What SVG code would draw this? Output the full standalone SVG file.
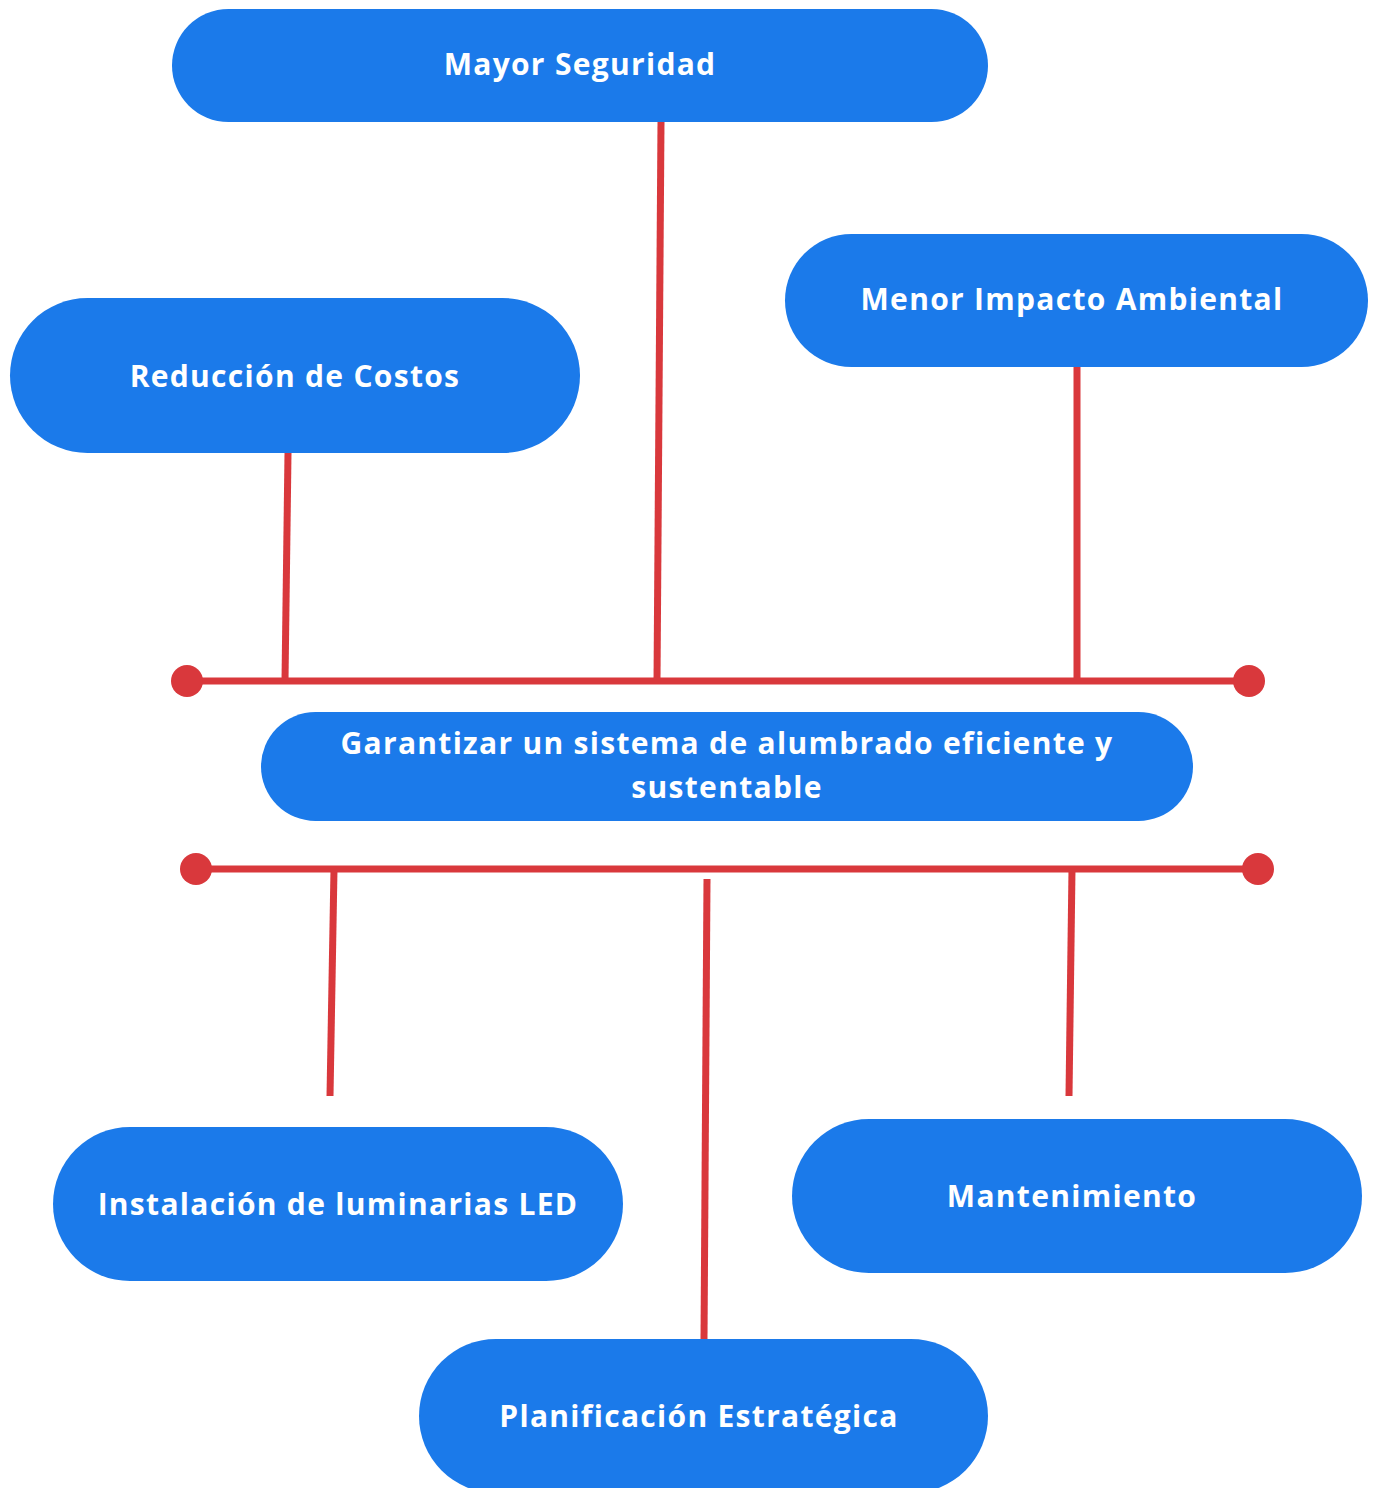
<svg xmlns="http://www.w3.org/2000/svg" width="1377" height="1488" viewBox="0 0 1377 1488">
<style>
.node{fill:#1B7AEA}
.t{fill:#FFFFFF;font-family:"Open Sans","Liberation Sans",sans-serif;font-weight:700;font-size:30px;text-anchor:middle;dominant-baseline:central;letter-spacing:1.3px}
.ln{stroke:#D9383C;stroke-width:7;fill:none}
.dot{fill:#D9383C}
</style>
<rect x="0" y="0" width="1377" height="1488" fill="#FFFFFF"/>
<g id="connectors">
<line class="ln" x1="187" y1="681" x2="1249" y2="681"/>
<circle class="dot" cx="187" cy="681" r="16"/>
<circle class="dot" cx="1249" cy="681" r="16"/>
<line class="ln" x1="288" y1="453" x2="285" y2="681"/>
<line class="ln" x1="661" y1="122" x2="657" y2="681"/>
<line class="ln" x1="1077" y1="367" x2="1077" y2="681"/>
<line class="ln" x1="196" y1="869" x2="1258" y2="869"/>
<circle class="dot" cx="196" cy="869" r="16"/>
<circle class="dot" cx="1258" cy="869" r="16"/>
<line class="ln" x1="334" y1="869" x2="330" y2="1096"/>
<line class="ln" x1="707" y1="879" x2="704" y2="1339"/>
<line class="ln" x1="1072" y1="869" x2="1069" y2="1096"/>
</g>
<g id="node-mayor-seguridad">
<rect class="node" x="172" y="9" width="816" height="113" rx="56.5"/>
<text class="t" x="580" y="63">Mayor Seguridad</text>
</g>
<g id="node-menor-impacto">
<rect class="node" x="785" y="234" width="583" height="133" rx="66.5"/>
<text class="t" x="1072" y="298">Menor Impacto Ambiental</text>
</g>
<g id="node-reduccion-costos">
<rect class="node" x="10" y="298" width="570" height="155" rx="77.5"/>
<text class="t" x="295" y="375">Reducción de Costos</text>
</g>
<g id="node-central">
<rect class="node" x="261" y="712" width="932" height="109" rx="54.5"/>
<text class="t" x="727" y="742">Garantizar un sistema de alumbrado eficiente y</text>
<text class="t" x="727" y="786">sustentable</text>
</g>
<g id="node-instalacion-led">
<rect class="node" x="53" y="1127" width="570" height="154" rx="77"/>
<text class="t" x="338" y="1203">Instalación de luminarias LED</text>
</g>
<g id="node-mantenimiento">
<rect class="node" x="792" y="1119" width="570" height="154" rx="77"/>
<text class="t" x="1072" y="1195">Mantenimiento</text>
</g>
<g id="node-planificacion">
<rect class="node" x="419" y="1339" width="569" height="154" rx="77"/>
<text class="t" x="699" y="1415">Planificación Estratégica</text>
</g>
</svg>
